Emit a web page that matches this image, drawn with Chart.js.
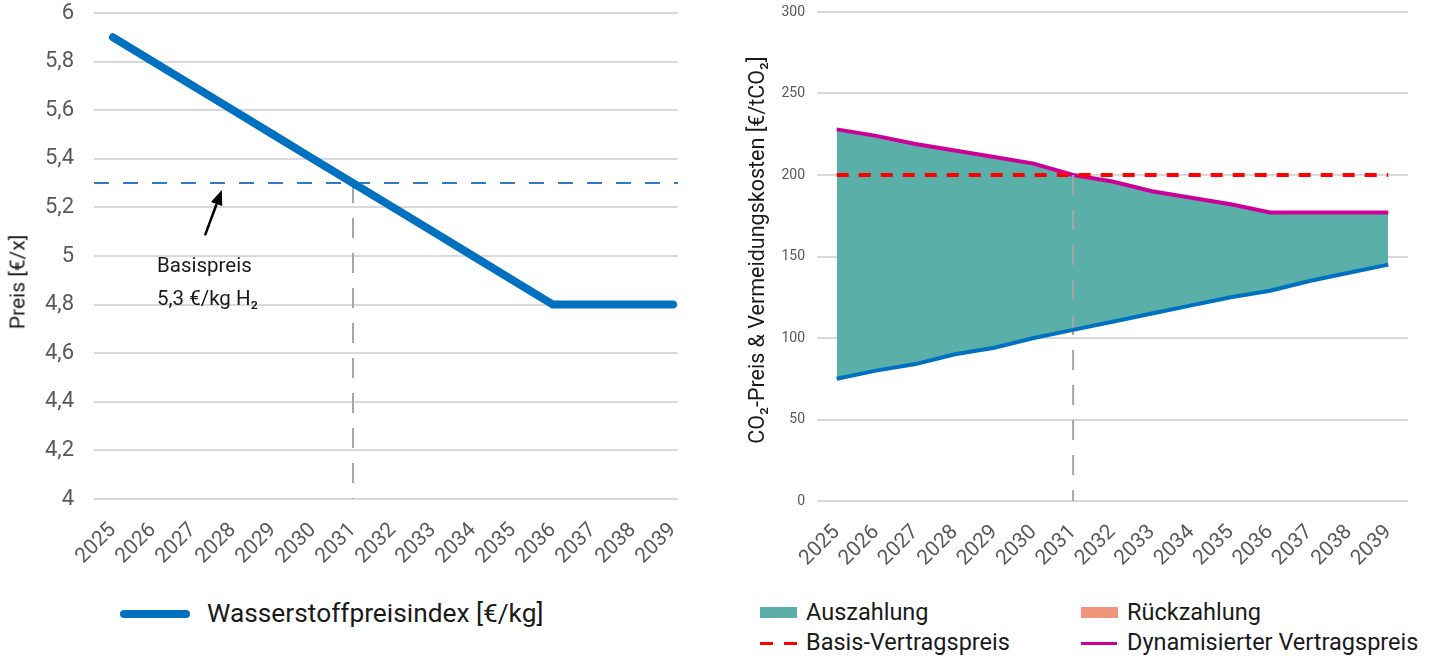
<!DOCTYPE html>
<html lang="de">
<head>
<meta charset="utf-8">
<title>Wasserstoffpreisindex und CO2-Differenzvertrag</title>
<script src="https://cdn.jsdelivr.net/npm/chart.js@4.4.1/dist/chart.umd.min.js"></script>
<style>
  html, body { margin: 0; padding: 0; background: #fff; }
  body {
    width: 1436px; height: 658px; position: relative; overflow: hidden;
    font-family: Roboto, "Noto Sans", sans-serif; color: #1a1a1a;
  }
  .pane { position: absolute; top: 0; }
  .vtitle {
    position: absolute; white-space: nowrap; line-height: 1;
    transform: translate(-50%, -50%) rotate(-90deg);
  }
  .txt { position: absolute; white-space: nowrap; line-height: 1; transform: translateY(-50%); }
  .swatch { position: absolute; }
</style>
</head>
<body>

<div class="pane" style="left:0;width:700px;height:590px;">
  <canvas id="chartH2" width="700" height="590"></canvas>
</div>
<div class="pane" style="left:700px;width:736px;height:590px;">
  <canvas id="chartCO2" width="736" height="590"></canvas>
</div>

<!-- axis titles -->
<div class="vtitle" style="left:18px;top:282px;font-size:21px;">Preis [€/x]</div>
<div class="vtitle" style="left:757px;top:250px;font-size:21.5px;">CO₂-Preis &amp; Vermeidungskosten [€/tCO₂]</div>

<!-- note on the base price -->
<div class="txt" style="left:157px;top:265px;font-size:20.5px;">Basispreis</div>
<div class="txt" style="left:157px;top:298px;font-size:20.5px;">5,3 €/kg H₂</div>

<!-- legend, left chart -->
<div class="swatch" style="left:120px;top:610px;width:70px;height:8px;border-radius:4px;background:#0070C0;"></div>
<div class="txt" style="left:207px;top:613px;font-size:26.3px;">Wasserstoffpreisindex [€/kg]</div>

<!-- legend, right chart -->
<div class="swatch" style="left:760px;top:607px;width:37px;height:11px;background:#5BAFA9;"></div>
<div class="txt" style="left:806px;top:613px;font-size:23.5px;">Auszahlung</div>
<div class="swatch" style="left:1081px;top:607px;width:37px;height:11px;background:#F1967B;"></div>
<div class="txt" style="left:1127px;top:613px;font-size:23.5px;">Rückzahlung</div>
<div class="swatch" style="left:760px;top:642px;width:13px;height:3px;background:#FF0000;"></div>
<div class="swatch" style="left:784px;top:642px;width:13px;height:3px;background:#FF0000;"></div>
<div class="txt" style="left:806px;top:643px;font-size:23.5px;">Basis-Vertragspreis</div>
<div class="swatch" style="left:1081px;top:642px;width:36px;height:3px;background:#CC0099;"></div>
<div class="txt" style="left:1127px;top:643px;font-size:23.5px;">Dynamisierter Vertragspreis</div>

<script>
// Years on the horizontal axis of both charts
const years = [2025, 2026, 2027, 2028, 2029, 2030, 2031, 2032, 2033, 2034, 2035, 2036, 2037, 2038, 2039];

// Hydrogen price index [€/kg]
const wasserstoffpreisindex = [5.9, 5.8, 5.7, 5.6, 5.5, 5.4, 5.3, 5.2, 5.1, 5.0, 4.9, 4.8, 4.8, 4.8, 4.8];
const basispreisH2 = 5.3;
const stichjahr = 2031;
const preisTickLabels = ['4', '4,2', '4,4', '4,6', '4,8', '5', '5,2', '5,4', '5,6', '5,8', '6'];

// CO2 price and contract prices [€/tCO2]
const co2Preis = [75, 80, 84, 90, 94, 100, 105, 110, 115, 120, 125, 129, 135, 140, 145];
const dynamisierterVertragspreis = [228, 224, 219, 215, 211, 207, 200, 196, 190, 186, 182, 177, 177, 177, 177];
const basisVertragspreis = [200, 200, 200, 200, 200, 200, 200, 200, 200, 200, 200, 200, 200, 200, 200];
const co2TickLabels = ['0', '50', '100', '150', '200', '250', '300'];

const FONT = 'Roboto, "Noto Sans", sans-serif';
const TICK_COLOR = '#595959';
const GRID_COLOR = '#D9D9D9';

Chart.defaults.font.family = FONT;
Chart.defaults.animation = false;

// ---------- left chart: hydrogen price index ----------
const h2Guides = {
  id: 'h2Guides',
  beforeDatasetsDraw(chart) {
    const { ctx, chartArea: a, scales: { x, y } } = chart;
    const yb = y.getPixelForValue(basispreisH2);
    const xs = x.getPixelForValue(stichjahr);
    ctx.save();
    ctx.lineWidth = 2;
    ctx.strokeStyle = '#2E7BC6';
    ctx.setLineDash([15, 14]);
    ctx.beginPath(); ctx.moveTo(a.left, yb); ctx.lineTo(a.right, yb); ctx.stroke();
    ctx.strokeStyle = '#A6A6A6';
    ctx.setLineDash([20, 15]);
    ctx.beginPath(); ctx.moveTo(xs, yb); ctx.lineTo(xs, a.bottom); ctx.stroke();
    ctx.restore();
  },
  afterDatasetsDraw(chart) {
    // arrow pointing from the note up to the base-price line
    const { ctx, scales: { x, y } } = chart;
    const x0 = x.getPixelForValue(2027.3), y0 = y.getPixelForValue(5.085);
    const x1 = x.getPixelForValue(2027.72), y1 = y.getPixelForValue(5.272);
    const ang = Math.atan2(y1 - y0, x1 - x0);
    const head = 15, half = 6;
    const bx = x1 - head * Math.cos(ang), by = y1 - head * Math.sin(ang);
    ctx.save();
    ctx.strokeStyle = '#000'; ctx.fillStyle = '#000'; ctx.lineWidth = 2.5;
    ctx.beginPath(); ctx.moveTo(x0, y0); ctx.lineTo(bx, by); ctx.stroke();
    ctx.beginPath();
    ctx.moveTo(x1, y1);
    ctx.lineTo(bx + half * Math.sin(ang), by - half * Math.cos(ang));
    ctx.lineTo(bx - half * Math.sin(ang), by + half * Math.cos(ang));
    ctx.closePath(); ctx.fill();
    ctx.restore();
  }
};

new Chart(document.getElementById('chartH2'), {
  type: 'line',
  data: {
    datasets: [{
      label: 'Wasserstoffpreisindex [€/kg]',
      data: years.map((yr, i) => ({ x: yr, y: wasserstoffpreisindex[i] })),
      borderColor: '#0070C0',
      borderWidth: 8,
      borderCapStyle: 'round',
      borderJoinStyle: 'round',
      pointRadius: 0,
      tension: 0,
      fill: false
    }]
  },
  options: {
    responsive: false,
    devicePixelRatio: 1,
    layout: { padding: { top: 13, right: 22, left: 0, bottom: 0 } },
    plugins: { legend: { display: false }, tooltip: { enabled: false } },
    scales: {
      x: {
        type: 'linear',
        min: 2024.525,
        max: 2039.125,
        afterBuildTicks: (s) => { s.ticks = years.map(v => ({ value: v })); },
        afterFit: (s) => { s.height = 91; s.paddingLeft = 0; s.paddingRight = 0; },
        grid: { display: false },
        border: { display: false },
        ticks: {
          autoSkip: false, minRotation: 45, maxRotation: 45, padding: 11,
          color: TICK_COLOR, font: { size: 21, family: FONT },
          callback: (v) => String(v)
        }
      },
      y: {
        min: 4, max: 6,
        afterBuildTicks: (s) => { s.ticks = preisTickLabels.map((_, i) => ({ value: 4 + i * 0.2 })); },
        afterFit: (s) => { s.width = 94; s.paddingTop = 0; s.paddingBottom = 0; },
        grid: { color: GRID_COLOR, lineWidth: 2, drawTicks: false },
        border: { display: false },
        ticks: {
          padding: 20, color: TICK_COLOR, font: { size: 22, family: FONT },
          callback: (v, i) => preisTickLabels[i]
        }
      }
    }
  },
  plugins: [h2Guides]
});

// ---------- right chart: CO2 price and contract price ----------
const co2Guide = {
  id: 'co2Guide',
  afterDatasetDraw(chart, args) {
    if (args.index !== 1) return;
    const { ctx, chartArea: a, scales: { x, y } } = chart;
    const xs = x.getPixelForValue(years.indexOf(stichjahr));
    const yt = y.getPixelForValue(basisVertragspreis[years.indexOf(stichjahr)]);
    ctx.save();
    ctx.lineWidth = 2;
    ctx.strokeStyle = '#A6A6A6';
    ctx.setLineDash([20, 15]);
    ctx.beginPath(); ctx.moveTo(xs, yt); ctx.lineTo(xs, a.bottom); ctx.stroke();
    ctx.restore();
  }
};

new Chart(document.getElementById('chartCO2'), {
  type: 'line',
  data: {
    labels: years.map(String),
    datasets: [
      {
        label: 'CO₂-Preis',
        data: co2Preis,
        borderColor: '#0070C0',
        borderWidth: 4,
        pointRadius: 0,
        tension: 0,
        fill: false,
        order: 0
      },
      {
        label: 'Dynamisierter Vertragspreis',
        data: dynamisierterVertragspreis,
        borderColor: '#CC0099',
        borderWidth: 4,
        pointRadius: 0,
        tension: 0,
        fill: { target: 0, above: '#5BAFA9', below: '#F1967B' },
        order: 1
      },
      {
        label: 'Basis-Vertragspreis',
        data: basisVertragspreis,
        borderColor: '#FF0000',
        borderWidth: 4,
        borderDash: [12, 10],
        pointRadius: 0,
        tension: 0,
        fill: false,
        order: -1
      }
    ]
  },
  options: {
    responsive: false,
    devicePixelRatio: 1,
    layout: { padding: { top: 12, right: 28, left: 0, bottom: 0 } },
    plugins: { legend: { display: false }, tooltip: { enabled: false } },
    scales: {
      x: {
        offset: true,
        afterFit: (s) => { s.height = 89; s.paddingLeft = 0; s.paddingRight = 0; },
        grid: { display: false },
        border: { display: false },
        ticks: {
          autoSkip: false, minRotation: 45, maxRotation: 45, padding: 11,
          color: TICK_COLOR, font: { size: 21, family: FONT }
        }
      },
      y: {
        min: 0, max: 300,
        afterBuildTicks: (s) => { s.ticks = co2TickLabels.map(v => ({ value: Number(v) })); },
        afterFit: (s) => { s.width = 117; s.paddingTop = 0; s.paddingBottom = 0; },
        grid: { color: GRID_COLOR, lineWidth: 2, drawTicks: false },
        border: { display: false },
        ticks: {
          padding: 12, color: TICK_COLOR, font: { size: 14, family: FONT },
          callback: (v, i) => co2TickLabels[i]
        }
      }
    }
  },
  plugins: [co2Guide]
});
</script>
</body>
</html>
